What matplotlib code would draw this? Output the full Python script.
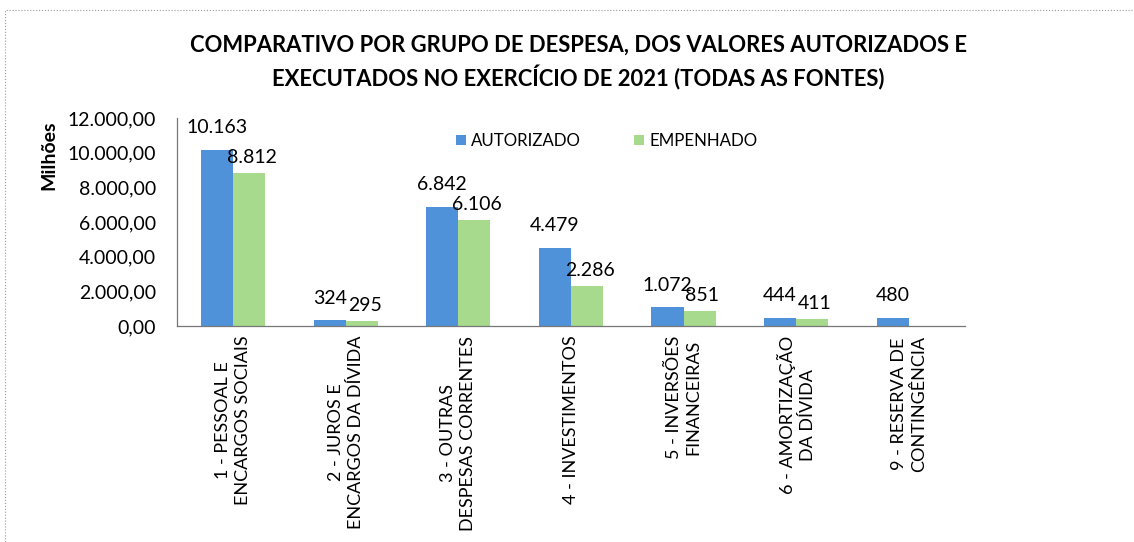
import numpy as np
import matplotlib.pyplot as plt
from matplotlib.patches import Rectangle
from matplotlib.ticker import FuncFormatter

plt.rcParams['font.family'] = ['Lato', 'DejaVu Sans']

# dados (milhões)
grupos = ['1 - PESSOAL E\nENCARGOS SOCIAIS', '2 - JUROS E\nENCARGOS DA DÍVIDA',
          '3 - OUTRAS\nDESPESAS CORRENTES', '4 - INVESTIMENTOS',
          '5 - INVERSÕES\nFINANCEIRAS', '6 - AMORTIZAÇÃO\nDA DÍVIDA',
          '9 - RESERVA DE\nCONTINGÊNCIA']
autorizado = [10163, 324, 6842, 4479, 1072, 444, 480]
empenhado = [8812, 295, 6106, 2286, 851, 411, 0]

def br(v, dec=0):
    s = f'{v:,.{dec}f}'
    return s.replace(',', 'X').replace('.', ',').replace('X', '.')

fig = plt.figure(figsize=(11.34, 5.42), dpi=100)
ax = fig.add_axes([0.156, 0.3985, 0.695, 0.384])

x = np.arange(len(grupos))
w = 0.285
ax.bar(x - w/2, autorizado, w, color='#4F92DA', label='AUTORIZADO')
ax.bar(x + w/2, empenhado, w, color='#A8DA8D', label='EMPENHADO')

# rótulos de valor
for xi, v in zip(x, autorizado):
    ax.annotate(br(v), (xi - w/2, v), xytext=(0, 10), textcoords='offset points',
                ha='center', va='bottom', fontsize=14)
for xi, v in zip(x, empenhado):
    if v > 0:
        ax.annotate(br(v), (xi + w/2, v), xytext=(2, 5), textcoords='offset points',
                    ha='center', va='bottom', fontsize=14)

ax.set_xlim(-0.5, len(grupos) - 0.5)
ax.set_ylim(0, 12000)
ax.set_yticks(np.arange(0, 12001, 2000))
ax.yaxis.set_major_formatter(FuncFormatter(lambda v, p: br(v, 2)))
ax.set_xticks(x)
ax.set_xticklabels(grupos, rotation=90, ha='center', va='top',
                   multialignment='center', fontsize=13, linespacing=1.3)
ax.tick_params(axis='both', length=0)
ax.tick_params(axis='y', labelsize=14, pad=15)
ax.tick_params(axis='x', pad=7)

for s in ['top', 'right']:
    ax.spines[s].set_visible(False)
for s in ['left', 'bottom']:
    ax.spines[s].set_color('#777777')
    ax.spines[s].set_linewidth(0.9)
    ax.spines[s].set_linestyle((0, (1, 1)))

ax.set_ylabel('Milhões', fontsize=14, fontweight='bold')
ax.yaxis.set_label_coords(-0.152, 0.82)

fig.legend(loc='center', bbox_to_anchor=(0.535, 0.74), ncol=2, frameon=False,
           fontsize=12.2, handlelength=0.6, handleheight=0.6, columnspacing=3.1,
           handletextpad=0.3)

fig.text(0.51, 0.885, 'COMPARATIVO POR GRUPO DE DESPESA, DOS VALORES AUTORIZADOS E\n'
         'EXECUTADOS NO EXERCÍCIO DE 2021 (TODAS AS FONTES)',
         ha='center', va='center', fontsize=15.8, fontweight='bold', linespacing=1.45)

fig.patches.append(Rectangle((0.004, -0.01), 1.0, 0.992, transform=fig.transFigure,
                             fill=False, edgecolor='#999999', linestyle=':', linewidth=0.8))

fig.savefig('out.png', dpi=100)
